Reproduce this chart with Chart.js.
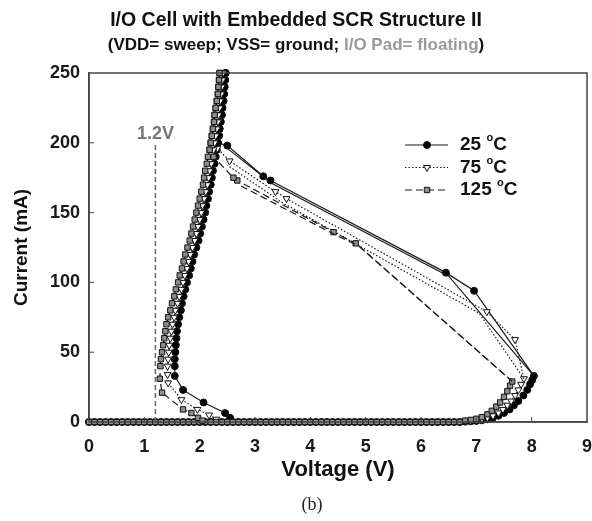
<!DOCTYPE html>
<html>
<head>
<meta charset="utf-8">
<script src="https://cdn.jsdelivr.net/npm/chart.js@4/dist/chart.umd.min.js"></script>
<style>
  html, body { margin: 0; padding: 0; background: #fff; }
  #wrap { width: 592px; height: 521px; }
</style>
</head>
<body>
<div id="wrap"><canvas id="iv" width="592" height="521"></canvas></div>
<script>
// off-state sweep along the voltage axis (shared by all three temperatures)
var offV = [0, 0.1, 0.2, 0.3, 0.4, 0.5, 0.6, 0.7, 0.8, 0.9, 1.0, 1.1, 1.2, 1.3, 1.4, 1.5, 1.6, 1.7, 1.8, 1.9,
            2.0, 2.1, 2.2, 2.3, 2.4, 2.5, 2.6, 2.7, 2.8, 2.9, 3.0, 3.1, 3.2, 3.3, 3.4, 3.5, 3.6, 3.7, 3.8, 3.9,
            4.0, 4.1, 4.2, 4.3, 4.4, 4.5, 4.6, 4.7, 4.8, 4.9, 5.0, 5.1, 5.2, 5.3, 5.4, 5.5, 5.6, 5.7, 5.8, 5.9,
            6.0, 6.1, 6.2, 6.3, 6.4, 6.5, 6.6, 6.7];
var offI = [0, 0, 0, 0, 0, 0, 0, 0, 0, 0, 0, 0, 0, 0, 0, 0, 0, 0, 0, 0,
            0, 0, 0, 0, 0, 0, 0, 0, 0, 0, 0, 0, 0, 0, 0, 0, 0, 0, 0, 0,
            0, 0, 0, 0, 0, 0, 0, 0, 0, 0, 0, 0, 0, 0, 0, 0, 0, 0, 0, 0,
            0, 0, 0, 0, 0, 0, 0, 0];

// knee up to the trigger point
var kneeV25 = [6.8, 6.9, 7.0, 7.1, 7.2, 7.3, 7.4, 7.5, 7.6, 7.68, 7.76, 7.85, 7.92, 7.97, 8.01, 8.04];
var kneeI25 = [0.3, 0.5, 0.8, 1.2, 2, 3, 4.5, 6.5, 9, 12, 15, 19, 23, 27, 30, 33];
var kneeV75 = [6.8, 6.9, 7.0, 7.1, 7.2, 7.3, 7.4, 7.48, 7.56, 7.63, 7.7, 7.76, 7.81, 7.86];
var kneeI75 = [0.5, 0.8, 1.3, 2, 3, 4.5, 6.5, 9, 12, 15, 19, 23, 27, 31];
var kneeV125 = [6.8, 6.9, 7.0, 7.1, 7.2, 7.28, 7.36, 7.43, 7.5, 7.56, 7.61, 7.65];
var kneeI125 = [1, 1.5, 2.3, 3.5, 5.5, 8, 11, 14, 18, 22, 26, 29];

// snapback points
var snapV25 = [6.96, 6.45, 3.28, 3.15, 2.5];
var snapI25 = [94, 107, 173, 176, 198];
var snapV75 = [7.7, 7.19, 3.57, 3.37, 2.54, 2.32];
var snapI75 = [59, 79, 160, 165, 187, 196];
var snapV125 = [4.82, 4.42, 2.68, 2.61, 2.25];
var snapI125 = [128, 136, 173, 175, 190];

// second trace of the snapback (no markers)
var traceV25 = [8.04, 6.5, 3.3, 2.5];
var traceI25 = [33, 104.5, 171, 196];
var traceV75 = [7.86, 7.05, 3.5, 2.5];
var traceI75 = [31, 78, 157, 184];
var traceV125 = [7.65, 4.88, 4.48, 2.7];
var traceI125 = [29, 126, 133.5, 170];

// on-state (holding) branch, from 250 mA downwards
var bandI = [250, 245, 240, 235, 230, 225, 220, 215, 210, 205, 200, 195, 190, 185, 180, 175, 170, 165, 160, 155,
             150, 145, 140, 135, 130, 125, 120, 115, 110, 105, 100, 95, 90, 85, 80, 75, 70, 65, 60, 55, 50, 45, 40];
var bandV25 = [2.47, 2.46, 2.45, 2.44, 2.43, 2.41, 2.40, 2.38, 2.36, 2.35, 2.33, 2.31, 2.29, 2.27, 2.24, 2.22,
               2.20, 2.17, 2.15, 2.12, 2.10, 2.07, 2.04, 2.01, 1.98, 1.94, 1.90, 1.87, 1.84, 1.81, 1.77, 1.74,
               1.71, 1.68, 1.66, 1.63, 1.61, 1.59, 1.58, 1.57, 1.56, 1.55, 1.55];
var bandV75 = [2.42, 2.41, 2.40, 2.39, 2.37, 2.36, 2.34, 2.33, 2.31, 2.29, 2.27, 2.25, 2.23, 2.21, 2.18, 2.16,
               2.14, 2.11, 2.08, 2.05, 2.03, 2.00, 1.97, 1.94, 1.91, 1.87, 1.83, 1.80, 1.77, 1.73, 1.70, 1.67,
               1.63, 1.60, 1.56, 1.54, 1.51, 1.49, 1.47, 1.45, 1.44, 1.43, 1.42];
var bandV125 = [2.36, 2.35, 2.34, 2.33, 2.31, 2.29, 2.27, 2.26, 2.24, 2.22, 2.20, 2.18, 2.15, 2.13, 2.10, 2.08,
                2.06, 2.03, 2.00, 1.97, 1.94, 1.91, 1.88, 1.85, 1.82, 1.78, 1.74, 1.71, 1.68, 1.64, 1.61, 1.57,
                1.54, 1.50, 1.47, 1.43, 1.40, 1.38, 1.36, 1.34, 1.32, 1.30, 1.29];

// return towards the axis
var retV25 = [1.55, 1.7, 2.07, 2.46, 2.55];
var retI25 = [33, 23, 14, 6.4, 3];
var retV75 = [1.42, 1.43, 1.67, 1.96, 2.17, 2.3];
var retI75 = [34, 28, 16, 9, 5, 2];
var retV125 = [1.28, 1.32, 1.7, 1.85, 1.97, 2.05];
var retI125 = [31, 21, 9, 6.4, 3, 1];

// 1.2 V marker
var refV = [1.2, 1.2];
var refI = [0, 200];

var temps = ['25', '75', '125'];

function pts(xs, ys) {
    var out = [];
    for (var i = 0; i < xs.length; i++) out.push({x: xs[i], y: ys[i]});
    return out;
}

function sweep(kneeV, kneeI, snapV, snapI, bandV, retV, retI) {
    var entry = snapI[snapI.length - 1];
    var up = [];
    for (var i = bandI.length - 1; i >= 0; i--) {
        if (bandI[i] > entry) up.push({x: bandV[i], y: bandI[i]});
    }
    return pts(offV, offI)
        .concat(pts(kneeV, kneeI))
        .concat(pts(snapV, snapI))
        .concat(up)
        .concat(pts(bandV, bandI))
        .concat(pts(retV, retI));
}

var styles = [
    {pointStyle: 'circle', rot: 0, bg: '#000', r: 3.5, dash: []},
    {pointStyle: 'triangle', rot: 180, bg: '#fff', r: 4, dash: [1.5, 2]},
    {pointStyle: 'rect', rot: 0, bg: '#8c8c8c', r: 3.8, dash: [7, 4]}
];

var series = [
    sweep(kneeV25, kneeI25, snapV25, snapI25, bandV25, retV25, retI25),
    sweep(kneeV75, kneeI75, snapV75, snapI75, bandV75, retV75, retI75),
    sweep(kneeV125, kneeI125, snapV125, snapI125, bandV125, retV125, retI125)
];
var traces = [pts(traceV25, traceI25), pts(traceV75, traceI75), pts(traceV125, traceI125)];

var datasets = [{
    label: 'ref',
    data: pts(refV, refI),
    showLine: true,
    borderColor: '#666',
    borderWidth: 1.5,
    borderDash: [5, 3],
    pointRadius: 0
}];
for (var s = 2; s >= 0; s--) {
    datasets.push({
        label: temps[s] + ' trace',
        data: traces[s],
        showLine: true,
        borderColor: '#1a1a1a',
        borderWidth: 1.2,
        borderDash: styles[s].dash,
        pointRadius: 0
    });
    datasets.push({
        label: temps[s] + ' \u00B0C',
        data: series[s],
        showLine: true,
        clip: false,
        borderColor: '#1a1a1a',
        borderWidth: 1.2,
        borderDash: styles[s].dash,
        pointStyle: styles[s].pointStyle,
        pointRotation: styles[s].rot,
        pointRadius: styles[s].r,
        pointBackgroundColor: styles[s].bg,
        pointBorderColor: '#111',
        pointBorderWidth: 1
    });
}

var FONT = '"Liberation Sans", Arial, sans-serif';

var decor = {
    id: 'decor',
    afterDraw: function(chart) {
        var c = chart.ctx, a = chart.chartArea;
        var xs = chart.scales.x, ys = chart.scales.y;
        c.save();
        // frame
        c.strokeStyle = '#444';
        c.lineWidth = 1.5;
        c.strokeRect(a.left, a.top, a.right - a.left, a.bottom - a.top);
        // inside ticks
        c.lineWidth = 1;
        for (var v = 1; v < 9; v++) {
            var px = xs.getPixelForValue(v);
            c.beginPath(); c.moveTo(px, a.bottom); c.lineTo(px, a.bottom - 5); c.stroke();
        }
        for (var w = 50; w < 250; w += 50) {
            var py = ys.getPixelForValue(w);
            c.beginPath(); c.moveTo(a.left, py); c.lineTo(a.left + 5, py); c.stroke();
        }
        // titles
        c.textAlign = 'center';
        c.textBaseline = 'middle';
        c.fillStyle = '#111';
        c.font = 'bold 19.5px ' + FONT;
        c.fillText('I/O Cell with Embedded SCR Structure II', 296, 21);
        c.font = 'bold 17px ' + FONT;
        var p1 = '(VDD= sweep; VSS= ground; ', p2 = 'I/O Pad= floating', p3 = ')';
        var w1 = c.measureText(p1).width, w2 = c.measureText(p2).width, w3 = c.measureText(p3).width;
        var x0 = 296 - (w1 + w2 + w3) / 2;
        c.textAlign = 'left';
        c.fillText(p1, x0, 45);
        c.fillStyle = '#9a9a9a';
        c.fillText(p2, x0 + w1, 45);
        c.fillStyle = '#111';
        c.fillText(p3, x0 + w1 + w2, 45);
        // 1.2V label
        c.textAlign = 'center';
        c.fillStyle = '#777';
        c.font = 'bold 18px ' + FONT;
        c.fillText('1.2V', xs.getPixelForValue(refV[1]), ys.getPixelForValue(refI[1]) - 9);
        // legend
        for (var k = 0; k < 3; k++) {
            var ly = 145 + k * 22.5;
            var st = styles[k];
            c.strokeStyle = '#1a1a1a';
            c.lineWidth = 1.2;
            c.setLineDash(st.dash);
            c.beginPath(); c.moveTo(405, ly); c.lineTo(448, ly); c.stroke();
            c.setLineDash([]);
            c.fillStyle = st.bg; c.strokeStyle = '#111'; c.lineWidth = 1;
            Chart.helpers.drawPoint(c, {pointStyle: st.pointStyle, rotation: st.rot, radius: st.r, borderWidth: 1}, 427, ly);
            c.fillStyle = '#111';
            c.textAlign = 'left';
            c.font = 'bold 19px ' + FONT;
            var num = temps[k] + ' ';
            c.fillText(num, 460, ly);
            var nw = c.measureText(num).width;
            c.font = 'bold 11px ' + FONT;
            c.fillText('o', 460 + nw, ly - 7);
            var ow = c.measureText('o').width;
            c.font = 'bold 19px ' + FONT;
            c.fillText('C', 460 + nw + ow, ly);
        }
        // caption
        c.textAlign = 'center';
        c.fillStyle = '#222';
        c.font = '18px "Liberation Serif", "Times New Roman", serif';
        c.fillText('(b)', 312, 505);
        c.restore();
    }
};

new Chart(document.getElementById('iv'), {
    type: 'scatter',
    data: {datasets: datasets},
    options: {
        responsive: false,
        animation: false,
        devicePixelRatio: 1,
        layout: {padding: {top: 73, right: 5, bottom: 38, left: 0}},
        plugins: {legend: {display: false}, tooltip: {enabled: false}},
        scales: {
            x: {
                type: 'linear', min: 0, max: 9,
                ticks: {stepSize: 1, color: '#1a1a1a', font: {family: FONT, size: 18, weight: 'bold'}, padding: 6},
                grid: {display: false},
                border: {display: true, color: '#444', width: 1.5},
                title: {display: true, text: 'Voltage (V)', color: '#111', font: {family: FONT, size: 22, weight: 'bold'}, padding: {top: 4, bottom: 0}},
                afterFit: function(sc) { sc.height = 61; sc.paddingLeft = 0; sc.paddingRight = 0; }
            },
            y: {
                type: 'linear', min: 0, max: 250,
                ticks: {stepSize: 50, color: '#1a1a1a', font: {family: FONT, size: 18, weight: 'bold'}, padding: 1},
                grid: {display: false},
                border: {display: true, color: '#444', width: 1.5},
                title: {display: true, text: 'Current (mA)', color: '#111', font: {family: FONT, size: 19, weight: 'bold'}, padding: {top: 10, bottom: 0}},
                afterFit: function(sc) { sc.width = 89; sc.paddingTop = 0; sc.paddingBottom = 0; }
            }
        }
    },
    plugins: [decor]
});
</script>
</body>
</html>
